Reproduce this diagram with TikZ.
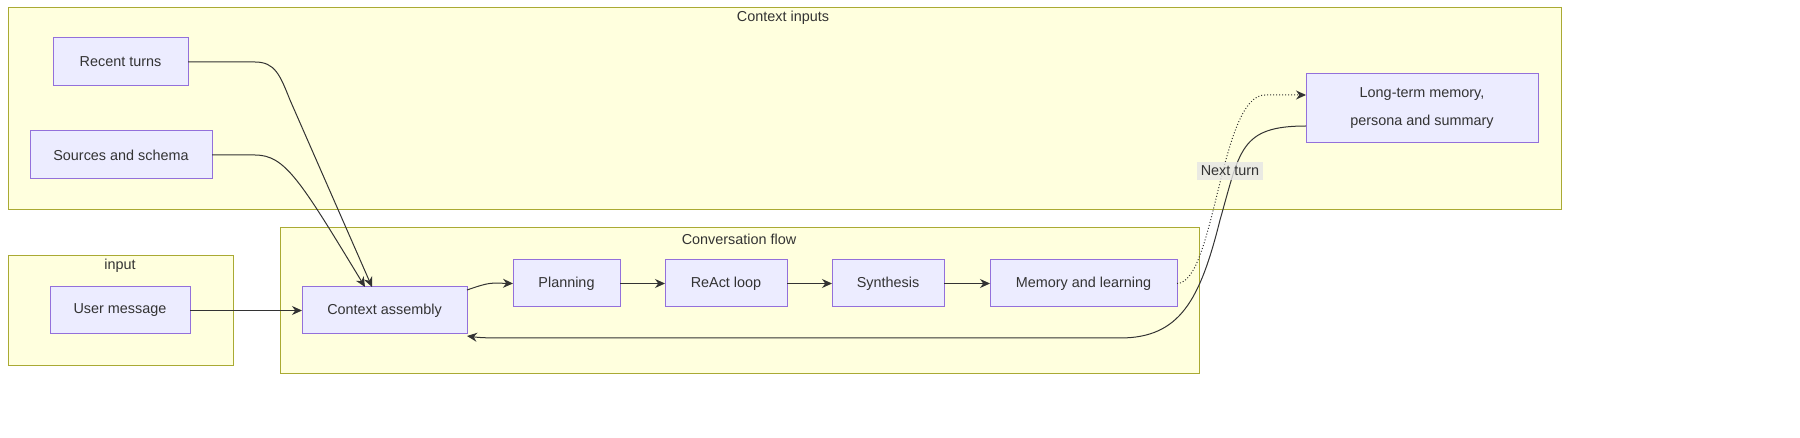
\documentclass[tikz,border=0pt]{standalone}
\usepackage{fontspec}
\setmainfont{Liberation Sans}
\usetikzlibrary{arrows.meta}
\definecolor{cl}{HTML}{FFFFDE}\definecolor{cls}{HTML}{AAAA33}
\definecolor{nf}{HTML}{ECECFF}\definecolor{ns}{HTML}{9370DB}
\definecolor{tx}{HTML}{333333}
\begin{document}
\begin{tikzpicture}[x=0.5pt,y=-0.5pt,font=\fontsize{7.2}{10}\selectfont,text=tx,
 clu/.style={draw=cls,fill=cl,line width=0.5pt},
 nd/.style={draw=ns,fill=nf,line width=0.5pt,align=center},
 lab/.style={inner sep=0},
 e/.style={draw=tx,line width=0.5pt,-{Stealth[length=5pt,width=4.5pt]}}]
\useasboundingbox (0,0) rectangle (1800,438);
\path[clu] (8,8) rectangle (1561,210);
\node[lab] (cil) at (783,18) {Context inputs};
\path[clu] (8,256) rectangle (233,366);
\node[lab] (inl) at (120,266) {input};
\path[clu] (280,228) rectangle (1199,374);
\node[lab] (cfl) at (739,239) {Conversation flow};
\def\bx#1#2#3#4#5#6{\path[nd] (#2,#3) rectangle (#4,#5); \node[lab,align=center] (#1) at ({(#2+#4)/2},{(#3+#5)/2}) {#6};
 \coordinate (#1-w) at (#2,{(#3+#5)/2}); \coordinate (#1-e) at (#4,{(#3+#5)/2});}
\bx{rt}{53}{38}{188}{86}{Recent turns}
\bx{ss}{30}{131}{212}{179}{Sources and schema}
\bx{lt}{1306}{74}{1538}{143}{Long-term memory,\\[4pt]persona and summary}
\bx{um}{50}{287}{190}{334}{User message}
\bx{ca}{302}{287}{467}{334}{Context assembly}
\bx{pl}{513}{260}{620}{307}{Planning}
\bx{ra}{665}{260}{787}{307}{ReAct loop}
\bx{sy}{832}{260}{944}{307}{Synthesis}
\bx{ml}{990}{260}{1177}{307}{Memory and learning}
\coordinate (cat1) at (372,287); \coordinate (cat2) at (365,287);
\coordinate (cab) at (467,336); \coordinate (ca2) at (467,290);
\coordinate (lt1) at (1306,95); \coordinate (lt2) at (1306,126);
\draw[e] (rt-e) -- (255,62) .. controls (275,62) and (280,75) .. (290,100) -- (cat1);
\draw[e] (ss-e) -- (255,155) .. controls (285,155) and (300,180) .. (cat2);
\draw[e] (um-e) -- (ca-w);
\draw[e] (ca2) .. controls (490,282) and (490,283) .. (pl-w);
\draw[e] (pl-e) -- (ra-w);
\draw[e] (ra-e) -- (sy-w);
\draw[e] (sy-e) -- (ml-w);
\draw[e,densely dotted] (ml-e) .. controls (1215,283) and (1220,95) .. (1265,95) -- (lt1);
\draw[e] (lt2) .. controls (1240,126) and (1240,150) .. (1220,220) .. controls (1200,300) and (1180,338) .. (1120,338) -- (500,338) .. controls (480,338) and (475,337) .. (cab);
\node[fill=gray!20,fill opacity=0.8,text opacity=1,inner sep=2pt] (nt) at (1230,171) {Next turn};
\end{tikzpicture}
\end{document}
